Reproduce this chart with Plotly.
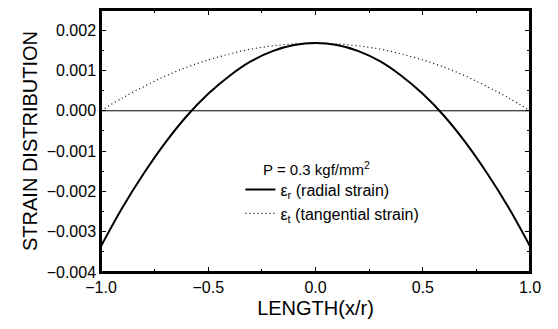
import plotly.graph_objects as go

# Normalised position along the plate (x/r)
x_pos = [-1.0, -0.9, -0.8, -0.7, -0.6, -0.5, -0.4, -0.3, -0.2, -0.1, 0.0,
         0.1, 0.2, 0.3, 0.4, 0.5, 0.6, 0.7, 0.8, 0.9, 1.0]

# Radial strain (solid) and tangential strain (dotted)
radial = [-0.00336, -0.00240, -0.00155, -0.00079, -0.00013, 0.00042, 0.00087,
          0.00123, 0.00148, 0.00163, 0.00168, 0.00163, 0.00148, 0.00123,
          0.00087, 0.00042, -0.00013, -0.00079, -0.00155, -0.00240, -0.00336]
tangential = [0.0, 0.00032, 0.00060, 0.00086, 0.00108, 0.00126, 0.00141,
              0.00153, 0.00161, 0.00166, 0.00168, 0.00166, 0.00161, 0.00153,
              0.00141, 0.00126, 0.00108, 0.00086, 0.00060, 0.00032, 0.0]

x_ticks = [-1.0, -0.5, 0.0, 0.5, 1.0]
y_ticks = [-0.004, -0.003, -0.002, -0.001, 0.0, 0.001, 0.002]

FONT = "Liberation Sans, Arial, sans-serif"

fig = go.Figure()
fig.add_trace(go.Scatter(
    x=x_pos, y=radial, mode="lines", line=dict(color="black", width=2, shape="spline"),
    name="ε<sub>r</sub> (radial strain)"))
fig.add_trace(go.Scatter(
    x=x_pos, y=tangential, mode="lines",
    line=dict(color="black", width=1.2, dash="1px,3px", shape="spline"),
    name="ε<sub>t</sub> (tangential strain)"))

axis_common = dict(
    showgrid=False, zeroline=False, showline=True, linecolor="black", linewidth=1.5,
    mirror="allticks", ticks="inside", ticklen=5, tickcolor="black", tickwidth=1,
    tickfont=dict(family=FONT, size=16, color="black"),
)

fig.update_xaxes(
    range=[-1.0, 1.0], tickvals=x_ticks, tickformat=".1f",
    minor=dict(dtick=0.25, ticks="inside", ticklen=3, tickcolor="black"),
    title=dict(text="LENGTH(x/r)", font=dict(family=FONT, size=20, color="black"), standoff=6),
    **axis_common)
fig.update_yaxes(
    range=[-0.004, 0.0025], tickvals=y_ticks, tickformat=".3f",
    minor=dict(dtick=0.0005, ticks="inside", ticklen=3, tickcolor="black"),
    title=dict(text="STRAIN DISTRIBUTION", font=dict(family=FONT, size=20, color="black"), standoff=4),
    **axis_common)

# plot frame
fig.add_shape(type="rect", xref="paper", yref="paper", x0=0, y0=0, x1=1, y1=1,
              line=dict(color="black", width=2), layer="above")

# horizontal reference line at zero strain
fig.add_hline(y=0, line=dict(color="black", width=1))

fig.add_annotation(
    x=0.372, y=0.394, xref="paper", yref="paper", xanchor="left", yanchor="middle",
    showarrow=False, text="P = 0.3 kgf/mm<sup>2</sup>",
    font=dict(family=FONT, size=15, color="black"))

fig.update_layout(
    width=558, height=329,
    margin=dict(l=101, r=28, t=8, b=57),
    paper_bgcolor="white", plot_bgcolor="white",
    showlegend=True,
    legend=dict(x=0.325, y=0.379, xanchor="left", yanchor="top",
                bgcolor="rgba(0,0,0,0)", itemwidth=30, tracegroupgap=0,
                font=dict(family=FONT, size=16, color="black")),
)

fig.write_html("out.html", config={"displayModeBar": False})
